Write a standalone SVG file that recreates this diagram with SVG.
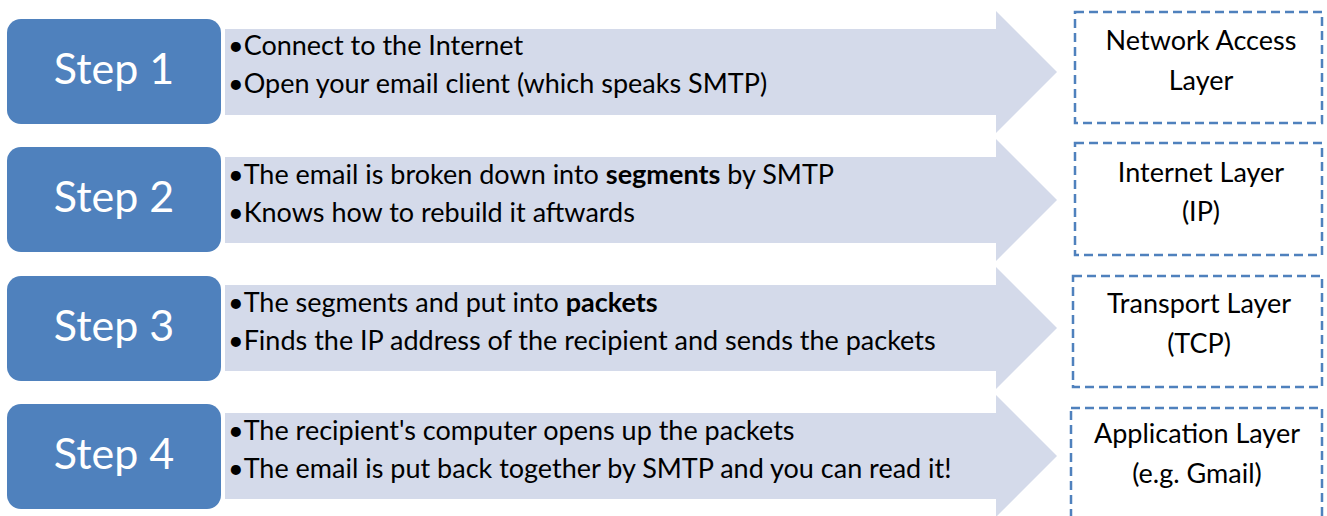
<svg xmlns="http://www.w3.org/2000/svg" width="1327" height="516" viewBox="0 0 1327 516">
<style>
.step{fill:#4F81BD;}
.steptxt{font-family:Lato,"Open Sans",sans-serif;font-size:43px;fill:#FFFFFF;text-anchor:middle;}
.arrow{fill:#D4DAEA;}
.bul{font-family:Lato,"Open Sans",sans-serif;font-size:27px;fill:#000000;}
.layer{fill:#FFFFFF;stroke:#4F81BD;stroke-width:2.5;stroke-dasharray:9 5;}
.laytxt{font-family:Lato,"Open Sans",sans-serif;font-size:27px;fill:#000000;text-anchor:middle;}
.b{font-weight:bold;}
</style>
<defs>
<path id="arr" d="M0,-43 H771 V-61 L832,0 L771,61 V43 H0 Z"/>
</defs>
<g id="connectors">
<use href="#arr" class="arrow" transform="translate(225,72)"/>
<use href="#arr" class="arrow" transform="translate(225,200)"/>
<use href="#arr" class="arrow" transform="translate(225,328)"/>
<use href="#arr" class="arrow" transform="translate(225,456)"/>
</g>
<g id="step1">
<rect class="step" x="7" y="19" width="214" height="105" rx="14"/>
<text class="steptxt" x="114" y="84">Step 1</text>
</g>
<g id="text1">
<text class="bul" x="228" y="55">•Connect to the Internet</text>
<text class="bul" x="228" y="93">•Open your email client (which speaks SMTP)</text>
</g>
<g id="step2">
<rect class="step" x="7" y="147" width="214" height="105" rx="14"/>
<text class="steptxt" x="114" y="212">Step 2</text>
</g>
<g id="text2">
<text class="bul" x="228" y="184">•The email is broken down into <tspan class="b">segments</tspan> by SMTP</text>
<text class="bul" x="228" y="222">•Knows how to rebuild it aftwards</text>
</g>
<g id="step3">
<rect class="step" x="7" y="276" width="214" height="105" rx="14"/>
<text class="steptxt" x="114" y="341">Step 3</text>
</g>
<g id="text3">
<text class="bul" x="228" y="312">•The segments and put into <tspan class="b">packets</tspan></text>
<text class="bul" x="228" y="350">•Finds the IP address of the recipient and sends the packets</text>
</g>
<g id="step4">
<rect class="step" x="7" y="404" width="214" height="105" rx="14"/>
<text class="steptxt" x="114" y="469">Step 4</text>
</g>
<g id="text4">
<text class="bul" x="228" y="440">•The recipient's computer opens up the packets</text>
<text class="bul" x="228" y="478">•The email is put back together by SMTP and you can read it!</text>
</g>
<g id="layer1">
<rect class="layer" x="1075" y="12" width="247" height="111"/>
<text class="laytxt" x="1201" y="50">Network Access</text>
<text class="laytxt" x="1201" y="90">Layer</text>
</g>
<g id="layer2">
<rect class="layer" x="1075" y="143" width="247" height="112"/>
<text class="laytxt" x="1201" y="182">Internet Layer</text>
<text class="laytxt" x="1201" y="221">(IP)</text>
</g>
<g id="layer3">
<rect class="layer" x="1073" y="276" width="249" height="111"/>
<text class="laytxt" x="1199" y="313">Transport Layer</text>
<text class="laytxt" x="1199" y="353">(TCP)</text>
</g>
<g id="layer4">
<rect class="layer" x="1071" y="408" width="251" height="112"/>
<text class="laytxt" x="1197" y="443">Application Layer</text>
<text class="laytxt" x="1197" y="483">(e.g. Gmail)</text>
</g>
</svg>
